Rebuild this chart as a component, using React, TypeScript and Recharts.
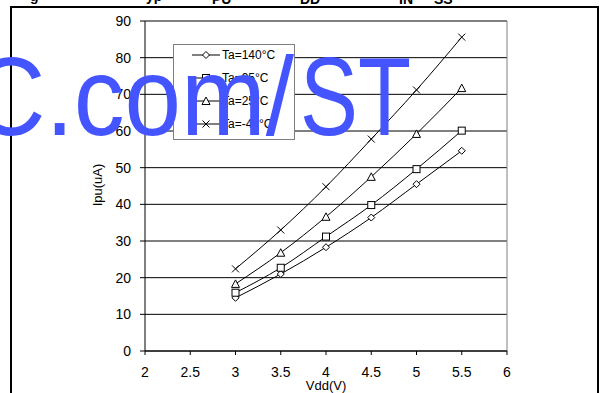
import React from 'react';
import { LineChart, Line, XAxis, YAxis, CartesianGrid, ReferenceLine } from 'recharts';

const vdd = [3, 3.5, 4, 4.5, 5, 5.5];
const ta140 = [14.5, 21.0, 28.3, 36.4, 45.5, 54.6];
const ta95 = [15.9, 22.7, 31.2, 39.8, 49.6, 60.1];
const ta25 = [18.3, 26.8, 36.6, 47.5, 59.2, 71.7];
const taM45 = [22.4, 33.0, 44.8, 57.8, 71.2, 85.6];
const xTicks = [2, 2.5, 3, 3.5, 4, 4.5, 5, 5.5, 6];
const yTicks = [0, 10, 20, 30, 40, 50, 60, 70, 80, 90];
const seriesNames = ['Ta=140°C', 'Ta=95°C', 'Ta=25°C', 'Ta=-45°C'];
const seriesKeys = ['t140', 't95', 't25', 'tm45'];
const seriesShapes = ['diamond', 'square', 'triangle', 'cross'];

const data = vdd.map((v, i) => ({ vdd: v, t140: ta140[i], t95: ta95[i], t25: ta25[i], tm45: taM45[i] }));

const FONT = '"Liberation Sans", Arial, sans-serif';

function Marker({ shape, cx, cy }: { shape: string; cx: number; cy: number }) {
  const s = 3.5;
  if (shape === 'diamond') {
    return <path d={`M${cx},${cy - s} L${cx + s},${cy} L${cx},${cy + s} L${cx - s},${cy} Z`} fill="#fff" stroke="#000" strokeWidth={1} />;
  }
  if (shape === 'square') {
    return <rect x={cx - s} y={cy - s} width={2 * s} height={2 * s} fill="#fff" stroke="#000" strokeWidth={1} />;
  }
  if (shape === 'triangle') {
    return <path d={`M${cx},${cy - s - 0.5} L${cx + s + 0.5},${cy + s} L${cx - s - 0.5},${cy + s} Z`} fill="#fff" stroke="#000" strokeWidth={1} />;
  }
  return (
    <g stroke="#000" strokeWidth={1}>
      <line x1={cx - s} y1={cy - s} x2={cx + s} y2={cy + s} />
      <line x1={cx - s} y1={cy + s} x2={cx + s} y2={cy - s} />
    </g>
  );
}

const makeDot = (shape: string) => (props: any) => {
  const { cx, cy, index } = props;
  if (cx == null || cy == null) return <g key={`e-${shape}-${index}`} />;
  return <g key={`${shape}-${index}`}><Marker shape={shape} cx={cx} cy={cy} /></g>;
};

export default function App() {
  return (
    <div style={{ position: 'absolute', left: 0, top: 0, width: 607, height: 393, background: '#fff', overflow: 'hidden' }}>
      <LineChart
        width={607}
        height={393}
        data={data}
        margin={{ top: 21, right: 100, bottom: 12, left: 85 }}
        style={{ position: 'absolute', left: 0, top: 0 }}
      >
        <CartesianGrid vertical={false} stroke="#000" strokeWidth={1} horizontalValues={yTicks} />
        <ReferenceLine y={90} stroke="#808080" strokeWidth={1} />
        <ReferenceLine x={6} stroke="#808080" strokeWidth={1} />
        <XAxis
          dataKey="vdd"
          type="number"
          domain={[2, 6]}
          ticks={xTicks}
          height={30}
          tickSize={4}
          tickMargin={12}
          axisLine={{ stroke: '#000' }}
          tickLine={{ stroke: '#000' }}
          tick={{ fill: '#000', fontSize: 14, fontFamily: FONT }}
          interval={0}
        />
        <YAxis
          type="number"
          domain={[0, 90]}
          ticks={yTicks}
          width={60}
          tickSize={5}
          tickMargin={9}
          axisLine={{ stroke: '#000' }}
          tickLine={{ stroke: '#000' }}
          tick={{ fill: '#000', fontSize: 14, fontFamily: FONT }}
          interval={0}
        />
        {seriesKeys.map((k, i) => (
          <Line
            key={k}
            dataKey={k}
            name={seriesNames[i]}
            type="monotone"
            stroke="#000"
            strokeWidth={1}
            dot={makeDot(seriesShapes[i])}
            activeDot={false}
            isAnimationActive={false}
          />
        ))}
      </LineChart>
      <svg width={607} height={393} style={{ position: 'absolute', left: 0, top: 0, pointerEvents: 'none' }}>
        <rect x={173.5} y={44.5} width={121} height={95} fill="#fff" stroke="#808080" strokeWidth={1} />
        {seriesNames.map((n, i) => {
          const cy = 55 + i * 23;
          return (
            <g key={n}>
              <line x1={192} y1={cy} x2={220} y2={cy} stroke="#000" strokeWidth={1} />
              <Marker shape={seriesShapes[i]} cx={206} cy={cy} />
              <text x={222} y={cy + 4} fontSize={12} fontFamily={FONT} fill="#000">{n}</text>
            </g>
          );
        })}
        <text x={326} y={390} textAnchor="middle" fontSize={13} fontFamily={FONT} fill="#000">Vdd(V)</text>
        <text x={0} y={0} transform="translate(102,185) rotate(-90)" textAnchor="middle" fontSize={13} fontFamily={FONT} fill="#000">Ipu(uA)</text>
        <g fontFamily={FONT} fontWeight="bold" fontSize={14} fill="#000">
          <text x={30} y={1}>g</text>
          <text x={146} y={1}>yp</text>
          <text x={212} y={4}>PU</text>
          <text x={300} y={4}>DD</text>
          <text x={399} y={4}>IN</text>
          <text x={434} y={4}>SS</text>
        </g>
        <rect x={11} y={7} width={587} height={400} fill="none" stroke="#000" strokeWidth={2} />
        <g fill="#4455FF" fontFamily={FONT} fontSize={112}>
          <text x={-28} y={135} textLength={322} lengthAdjust="spacingAndGlyphs">C.com/</text>
          <text x={300} y={135} textLength={111} lengthAdjust="spacingAndGlyphs">ST</text>
        </g>
      </svg>
    </div>
  );
}
